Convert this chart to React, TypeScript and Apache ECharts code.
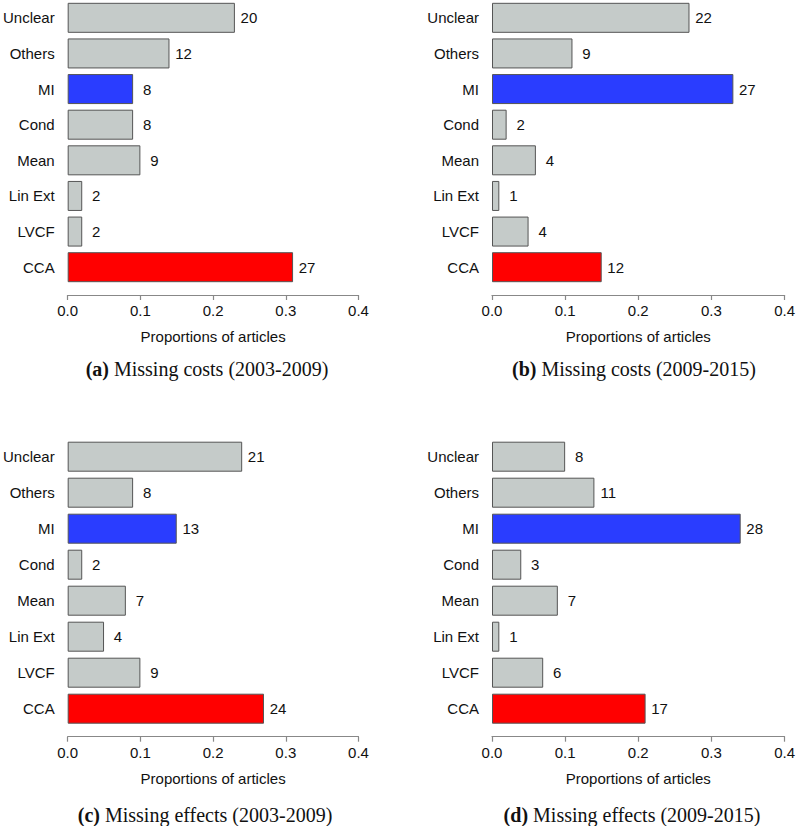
import React, { useEffect, useRef } from "react";
import * as echarts from "echarts";

const categories = ["CCA", "LVCF", "Lin Ext", "Mean", "Cond", "MI", "Others", "Unclear"];
const xTicks = [0, 0.1, 0.2, 0.3, 0.4];

const propsA = [0.31, 0.02, 0.02, 0.1, 0.09, 0.09, 0.14, 0.23];
const countsA = [27, 2, 2, 9, 8, 8, 12, 20];
const propsB = [0.15, 0.05, 0.01, 0.06, 0.02, 0.33, 0.11, 0.27];
const countsB = [12, 4, 1, 4, 2, 27, 9, 22];
const propsC = [0.27, 0.1, 0.05, 0.08, 0.02, 0.15, 0.09, 0.24];
const countsC = [24, 9, 4, 7, 2, 13, 8, 21];
const propsD = [0.21, 0.07, 0.01, 0.09, 0.04, 0.34, 0.14, 0.1];
const countsD = [17, 6, 1, 7, 3, 28, 11, 8];

const captionTags = ["(a)", "(b)", "(c)", "(d)"];
const captionTexts = [
  "Missing costs (2003-2009)",
  "Missing costs (2009-2015)",
  "Missing effects (2003-2009)",
  "Missing effects (2009-2015)",
];
const axisTitle = "Proportions of articles";

const panels = [
  { props: propsA, counts: countsA },
  { props: propsB, counts: countsB },
  { props: propsC, counts: countsC },
  { props: propsD, counts: countsD },
];

const SANS = "'Liberation Sans', Arial, sans-serif";
const SERIF = "'Liberation Serif', 'Times New Roman', serif";

function barColor(cat: string) {
  if (cat === "CCA") return "#ff0000";
  if (cat === "MI") return "#2a3dff";
  return "#c5cbc9";
}

export default function App() {
  const ref = useRef<HTMLDivElement>(null);
  useEffect(() => {
    if (!ref.current) return;
    const chart = echarts.init(ref.current, null, { renderer: "svg" });
    const lefts = [65, 492, 65, 492];
    const tops = [-3, -3, 438.7, 438.7];
    const width = 293.5;
    const height = 288;

    const grid = panels.map((_, i) => ({
      left: lefts[i],
      top: tops[i],
      width,
      height,
      containLabel: false,
    }));
    const xAxis = panels.map((_, i) => ({
      type: "value" as const,
      gridIndex: i,
      min: xTicks[0],
      max: xTicks[xTicks.length - 1],
      interval: 0.1,
      position: "bottom" as const,
      offset: 10,
      splitLine: { show: false },
      axisLine: { show: true, lineStyle: { color: "#888", width: 1.2 } },
      axisTick: { show: true, length: 5, lineStyle: { color: "#888", width: 1.2 } },
      axisLabel: {
        color: "#111",
        fontFamily: SANS,
        fontSize: 15,
        margin: 8,
        formatter: (v: number) => v.toFixed(1),
      },
      name: axisTitle,
      nameLocation: "middle" as const,
      nameGap: 34,
      nameTextStyle: { color: "#111", fontFamily: SANS, fontSize: 15 },
    }));
    const yAxis = panels.map((_, i) => ({
      type: "category" as const,
      gridIndex: i,
      data: categories,
      axisLine: { show: false },
      axisTick: { show: false },
      splitLine: { show: false },
      axisLabel: { color: "#111", fontFamily: SANS, fontSize: 15, margin: 13 },
    }));
    const series = panels.map((p, i) => ({
      type: "bar" as const,
      xAxisIndex: i,
      yAxisIndex: i,
      barWidth: 30,
      data: p.props.map((v, j) => ({
        value: v,
        itemStyle: { color: barColor(categories[j]), borderColor: "#555", borderWidth: 1 },
      })),
      label: {
        show: true,
        position: "right" as const,
        distance: 14,
        align: "center" as const,
        color: "#111",
        fontFamily: SANS,
        fontSize: 15,
        formatter: (params: any) => String(p.counts[params.dataIndex]),
      },
    }));
    const capCenters = [
      [207, 369],
      [634, 369],
      [205, 815],
      [632, 815],
    ];
    const graphic = panels.map((_, i) => ({
      type: "text" as const,
      x: capCenters[i][0],
      y: capCenters[i][1],
      style: {
        text: `{b|${captionTags[i]}} ${captionTexts[i]}`,
        align: "center" as const,
        verticalAlign: "middle" as const,
        fontFamily: SERIF,
        fontSize: 20,
        fill: "#111",
        rich: {
          b: { fontFamily: SERIF, fontSize: 20, fontWeight: "bold" as const, fill: "#111" },
        },
      },
    }));

    chart.setOption({
      animation: false,
      backgroundColor: "#ffffff",
      grid,
      xAxis,
      yAxis,
      series,
      graphic,
    });
    return () => chart.dispose();
  }, []);
  return (
    <div
      ref={ref}
      style={{ position: "fixed", left: 0, top: 0, width: 798, height: 826, background: "#fff" }}
    />
  );
}
